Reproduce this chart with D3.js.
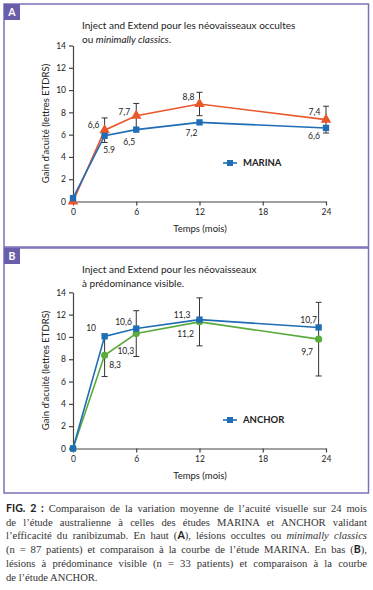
<!DOCTYPE html>
<html>
<head>
<meta charset="utf-8">
<style>
  body { margin: 0; background: #fff; }
  svg { display: block; }
  text { font-family: Lato, "Noto Sans", sans-serif; fill: #222; }
</style>
<script src="https://cdn.jsdelivr.net/npm/d3@7/dist/d3.min.js"></script>
</head>
<body>
<div id="chart"></div>
<script>
// Data
const monthsA = [0, 3, 6, 12, 24];
const monthsB = [0, 3, 6, 12, 23.3];
const xTicks = [0, 6, 12, 18, 24];
const yTicks = [0, 2, 4, 6, 8, 10, 12, 14];

// panel A: inject and extend (occultes) vs MARINA
const ieOccult = [0, 6.4, 7.7, 8.75, 7.35];
const ieOccultErr = [0, 1.1, 1.1, 1.05, 1.2];
const ieOccultLabels = ["", "6,6", "7,7", "8,8", "7,4"];
const marina = [0.3, 5.9, 6.45, 7.1, 6.6];
const marinaLabels = ["", "5.9", "6,5", "7,2", "6,6"];

// panel B: inject and extend (visible) vs ANCHOR
const ieVisible = [0, 8.35, 10.3, 11.35, 9.8];
const ieVisibleErr = [0, 1.9, 2.05, 2.15, 3.3];
const ieVisibleLabels = ["", "8,3", "10,3", "11,2", "9,7"];
const anchor = [0, 10.05, 10.75, 11.55, 10.85];
const anchorLabels = ["", "10", "10,6", "11,3", "10,7"];

const W = 373, H = 590;
const purple = "#7b70b9", purpleDark = "#6a5eaa";
const orange = "#e8582c", blue = "#1f6db4", green = "#5aab3b";

const svg = d3.select("#chart").append("svg")
  .attr("width", W).attr("height", H);
svg.append("rect").attr("width", W).attr("height", H).attr("fill", "#fff");

function drawPanel(o) {
  const g = svg.append("g");
  // frame + letter tag
  g.append("rect").attr("x", o.box[0]).attr("y", o.box[1])
    .attr("width", o.box[2]).attr("height", o.box[3])
    .attr("fill", "none").attr("stroke", purple).attr("stroke-width", 1.5);
  g.append("rect").attr("x", o.box[0]).attr("y", o.box[1])
    .attr("width", 16).attr("height", 16).attr("fill", purpleDark);
  g.append("text").attr("x", o.box[0] + 8).attr("y", o.box[1] + 12)
    .attr("text-anchor", "middle").attr("font-size", 10.5).attr("font-weight", "bold")
    .style("fill", "#fff").text(o.tag);

  // title
  const t = g.append("text").attr("x", 82).attr("y", o.titleY).attr("font-size", 10);
  t.append("tspan").text(o.title[0]);
  const l2 = t.append("tspan").attr("x", 82).attr("dy", 14);
  o.title[1].forEach(p => l2.append("tspan").attr("font-style", p.it ? "italic" : null).text(p.t));

  const x = d3.scaleLinear().domain([0, 24]).range([73, 326]);
  const y = d3.scaleLinear().domain([0, 14]).range([o.yBot, o.yTop]);

  const ax = g.append("g").attr("transform", `translate(73,0)`)
    .call(d3.axisLeft(y).tickValues(yTicks).tickSize(4).tickSizeOuter(0).tickPadding(3));
  const bx = g.append("g").attr("transform", `translate(0,${o.yBot})`)
    .call(d3.axisBottom(x).tickValues(xTicks).tickSize(4).tickSizeOuter(0).tickPadding(3));
  [ax, bx].forEach(a => {
    a.selectAll("path,line").attr("stroke", "#444").attr("stroke-width", 1.2);
    a.selectAll("text").attr("font-size", 8.5).style("font-family", "Lato, sans-serif").style("fill", "#222");
  });

  g.append("text").attr("transform", `translate(49,${(o.yTop + o.yBot) / 2}) rotate(-90)`)
    .attr("text-anchor", "middle").attr("font-size", 9.5).text("Gain d\u2019acuité (lettres ETDRS)");
  g.append("text").attr("x", 200).attr("y", o.yBot + 30)
    .attr("text-anchor", "middle").attr("font-size", 9.5).text("Temps (mois)");

  const line = d3.line().x(d => x(d[0])).y(d => y(d[1]));

  o.series.forEach(s => {
    const pts = s.values.map((v, i) => [s.months[i], v, s.err ? s.err[i] : 0]);
    // error bars
    pts.filter(p => p[2] > 0).forEach(p => {
      const eb = g.append("g").attr("stroke", "#333").attr("stroke-width", 1);
      eb.append("line").attr("x1", x(p[0])).attr("x2", x(p[0]))
        .attr("y1", y(p[1] - p[2])).attr("y2", y(p[1] + p[2]));
      [p[1] - p[2], p[1] + p[2]].forEach(v => eb.append("line")
        .attr("x1", x(p[0]) - 3).attr("x2", x(p[0]) + 3).attr("y1", y(v)).attr("y2", y(v)));
    });
  });
  o.series.forEach(s => {
    const pts = s.values.map((v, i) => [s.months[i], v]);
    g.append("path").datum(pts).attr("d", line)
      .attr("fill", "none").attr("stroke", s.color).attr("stroke-width", 1.6);
    g.selectAll(null).data(pts).enter().append("path")
      .attr("transform", d => `translate(${x(d[0])},${y(d[1])})`)
      .attr("d", d3.symbol(s.symbol, s.size)).attr("fill", s.color);
    g.selectAll(null).data(pts).enter().append("text")
      .attr("x", (d, i) => x(d[0]) + s.off[i][0])
      .attr("y", (d, i) => y(d[1]) + s.off[i][1])
      .attr("dy", "0.35em").attr("text-anchor", "middle").attr("font-size", 8.5)
      .text((d, i) => s.labels[i]);
  });

  // legend
  const lg = g.append("g").attr("transform", `translate(223,${o.legendY})`);
  lg.append("line").attr("x1", 0).attr("x2", 14).attr("stroke", blue).attr("stroke-width", 1.6);
  lg.append("path").attr("transform", "translate(7,0)").attr("d", d3.symbol(d3.symbolSquare, 36)).attr("fill", blue);
  lg.append("text").attr("x", 20).attr("dy", "0.35em").attr("font-size", 9.5)
    .attr("font-weight", "bold").text(o.legend);
}

drawPanel({
  tag: "A", box: [4, 4, 364.5, 243], titleY: 29, yTop: 45.5, yBot: 201.5, legendY: 163,
  title: ["Inject and Extend pour les néovaisseaux occultes", [{t: "ou "}, {t: "minimally classics", it: true}, {t: "."}]],
  legend: "MARINA",
  series: [
    {values: ieOccult, months: monthsA, err: ieOccultErr, labels: ieOccultLabels, color: orange,
     symbol: d3.symbolTriangle, size: 48, off: [[0, 0], [-11, -5], [-12, -4], [-11, -6.5], [-11.5, -8]]},
    {values: marina, months: monthsA, labels: marinaLabels, color: blue,
     symbol: d3.symbolSquare, size: 40, off: [[0, 0], [4.5, 14], [-7, 12], [-8, 10.5], [-12, 8.5]]}
  ]
});

drawPanel({
  tag: "B", box: [4, 248, 364.5, 245], titleY: 273, yTop: 292.3, yBot: 448.5, legendY: 420,
  title: ["Inject and Extend pour les néovaisseaux", [{t: "à prédominance visible."}]],
  legend: "ANCHOR",
  series: [
    {values: ieVisible, months: monthsB, err: ieVisibleErr, labels: ieVisibleLabels, color: green,
     symbol: d3.symbolCircle, size: 40, off: [[0, 0], [10.5, 10], [-10.5, 17], [-14, 11.7], [-11.5, 13]]},
    {values: anchor, months: monthsB, labels: anchorLabels, color: blue,
     symbol: d3.symbolSquare, size: 40, off: [[0, 0], [-13.5, -8], [-12.7, -7], [-17.5, -4.6], [-10, -7.5]]}
  ]
});

// caption, justified line by line
const capLines = [
  [{t: "FIG. 2 : ", fig: true}, {t: "Comparaison de la variation moyenne de l\u2019acuité visuelle sur 24 mois"}],
  [{t: "de l\u2019étude australienne à celles des études MARINA et ANCHOR validant"}],
  [{t: "l\u2019efficacité du ranibizumab. En haut ("}, {t: "A", b: true}, {t: "), lésions occultes ou "}, {t: "minimally classics", it: true}],
  [{t: "(n = 87 patients) et comparaison à la courbe de l\u2019étude MARINA. En bas ("}, {t: "B", b: true}, {t: "),"}],
  [{t: "lésions à prédominance visible (n = 33 patients) et comparaison à la courbe"}],
  [{t: "de l\u2019étude ANCHOR."}]
];
capLines.forEach((parts, i) => {
  const tx = svg.append("text").attr("x", 6).attr("y", 512 + i * 13.7)
    .attr("font-size", 10.6).style("font-family", "'Liberation Serif', 'DejaVu Serif', serif").style("fill", "#333");
  parts.forEach(p => {
    const ts = tx.append("tspan").text(p.t);
    if (p.it) ts.attr("font-style", "italic");
    if (p.b || p.fig) ts.style("font-family", "Lato, sans-serif").attr("font-weight", "bold").style("fill", "#222");
    if (p.fig) ts.style("font-variant", "small-caps");
  });
  if (i < capLines.length - 1) {
    const full = parts.map(p => p.t).join("");
    const spaces = (full.trim().match(/ /g) || []).length;
    const w = tx.node().getComputedTextLength();
    tx.style("word-spacing", ((361 - w) / spaces) + "px");
  }
});
</script>
</body>
</html>
